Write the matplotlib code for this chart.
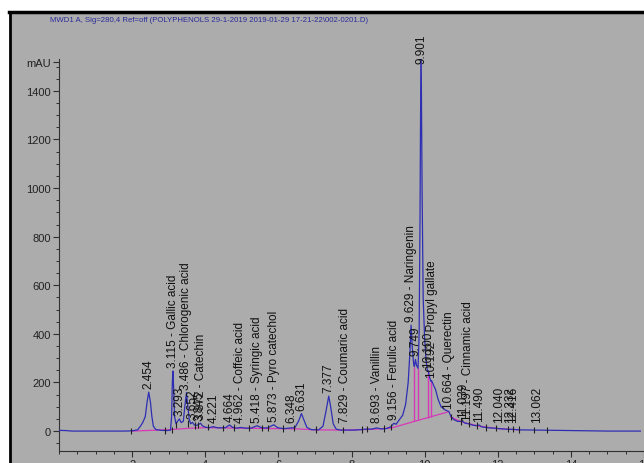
import matplotlib
matplotlib.use("Agg")
import matplotlib.pyplot as plt
from matplotlib import font_manager
from matplotlib.patches import Rectangle
from matplotlib.lines import Line2D
from matplotlib.ticker import MultipleLocator

names_installed = set(font_manager.get_font_names())
narrow = 'Liberation Sans Narrow' if 'Liberation Sans Narrow' in names_installed else 'Liberation Sans'

title = r"MWD1 A, Sig=280,4 Ref=off (POLYPHENOLS 29-1-2019 2019-01-29 17-21-22\002-0201.D)"

# chromatogram trace (time min, mAU)
trace_t = [0.00, 0.20, 0.35, 1.00, 1.80, 2.00, 2.15, 2.25, 2.30, 2.36, 2.41, 2.454, 2.50, 2.54, 2.58,
           2.65, 2.80, 2.95, 3.05, 3.08, 3.10, 3.115, 3.135, 3.16, 3.20, 3.25, 3.293, 3.34, 3.40,
           3.44, 3.486, 3.52, 3.56, 3.60, 3.652, 3.70, 3.78, 3.845, 3.872, 3.92, 4.00, 4.10, 4.221,
           4.35, 4.55, 4.664, 4.75, 4.88, 4.962, 5.10, 5.25, 5.418, 5.55, 5.70, 5.873, 5.98, 6.15,
           6.348, 6.45, 6.55, 6.631, 6.70, 6.78, 6.90, 7.10, 7.22, 7.30, 7.377, 7.43, 7.50, 7.58,
           7.70, 7.829, 8.10, 8.40, 8.55, 8.693, 8.80, 8.95, 9.08, 9.156, 9.22, 9.30, 9.40, 9.48,
           9.55, 9.60, 9.629, 9.66, 9.70, 9.72, 9.749, 9.78, 9.82, 9.85, 9.875, 9.901, 9.93, 9.96,
           10.00, 10.04, 10.08, 10.10, 10.13, 10.17, 10.192, 10.24, 10.30, 10.37, 10.45, 10.55,
           10.664, 10.72, 10.80, 10.90, 11.039, 11.10, 11.197, 11.30, 11.40, 11.490, 11.55, 11.70,
           11.90, 12.040, 12.20, 12.332, 12.416, 12.60, 13.062, 13.50, 14.00, 14.50, 15.00, 15.90]
trace_v = [3, 2, 0, 0, 0, 1, 5, 25, 38, 60, 120, 160, 120, 60, 20,
           6, 3, 2, 4, 60, 200, 247, 180, 60, 30, 42, 50, 35, 40,
           100, 158, 110, 50, 30, 36, 25, 24, 30, 32, 22, 16, 14, 18,
           13, 14, 25, 15, 12, 15, 12, 12, 22, 13, 13, 26, 14, 10,
           13, 14, 40, 72, 45, 15, 6, 5, 20, 80, 144, 100, 30, 8,
           4, 4, 4, 8, 8, 13, 9, 10, 18, 32, 28, 45, 65, 110,
           200, 330, 436, 350, 275, 265, 295, 270, 258, 400, 900, 1650, 1000, 550,
           380, 290, 245, 248, 225, 205, 207, 190, 170, 130, 100, 88,
           80, 60, 47, 40, 40, 33, 30, 25, 22, 25, 18, 14,
           12, 10, 8, 7, 7, 5, 4, 3, 2, 1, 0, 0]

# integration baseline
base_t = [2.0, 2.9, 3.05, 3.6, 4.0, 5.0, 6.0, 6.5, 7.0, 7.8, 8.5, 9.07, 10.664]
base_v = [0, 5, 6, 12, 14, 12, 10, 9, 5, 4, 7, 12, 80]
base2_t = [10.72, 11.0, 11.5, 12.0, 12.6]
base2_v = [58, 38, 20, 10, 5]

# drop lines under the fused peaks
drop_t = [9.72, 9.82, 10.08, 10.17]
drop_lo = [40, 44, 55, 59]
drop_hi = [265, 258, 245, 205]

# integration event ticks
tick_t = [1.98, 2.9, 3.08, 3.2, 3.54, 3.72, 3.8, 4.08, 4.48, 4.79, 5.19, 5.55, 5.72, 6.14, 6.44, 7.04,
          7.77, 8.29, 8.42, 8.88, 9.07, 10.73, 11.0, 11.2, 11.44, 11.69, 11.95, 12.28, 12.42, 12.58,
          13.0, 13.36]
tick_v = [0, 2, 4, 25, 30, 22, 24, 15, 13, 14, 12, 13, 13, 10, 13, 5,
          4, 6, 8, 10, 15, 58, 38, 29, 22, 14, 12, 8, 7, 5, 4, 3]

# peak annotations
peak_t = [2.454, 3.115, 3.293, 3.486, 3.652, 3.845, 3.872, 4.221, 4.664, 4.962, 5.418, 5.873, 6.348,
          6.631, 7.377, 7.829, 8.693, 9.156, 9.629, 9.749, 9.901, 10.100, 10.192, 10.664, 11.039,
          11.197, 11.490, 12.040, 12.332, 12.416, 13.062]
peak_h = [160, 247, 50, 158, 36, 30, 32, 18, 25, 15, 22, 26, 13, 72, 144, 4, 13, 32, 436, 295, 1500,
          248, 207, 80, 40, 30, 25, 10, 7, 7, 4]
peak_name = ['', 'Gallic acid', '', 'Chlorogenic acid', '', '', 'Catechin', '', '', 'Coffeic acid',
             'Syringic acid', 'Pyro catechol', '', '', '', 'Coumaric acid', 'Vanillin', 'Ferulic acid',
             'Naringenin', '', '', '', 'Propyl gallate', 'Querectin', '', 'Cinnamic acid', '', '', '', '', '']

yticks = [0, 200, 400, 600, 800, 1000, 1200, 1400, 1520]
ylabels = ['0', '200', '400', '600', '800', '1000', '1200', '1400', 'mAU']
xticks = [2, 4, 6, 8, 10, 12, 14, 16]

W, H = 644, 464
fig = plt.figure(figsize=(W / 100, H / 100), dpi=100)
fig.patch.set_facecolor('white')
fig.add_artist(Rectangle((11 / W, 0), 1, 1 - 14 / H, transform=fig.transFigure,
                         facecolor='#acacac', edgecolor='none', zorder=-10))
fig.add_artist(Line2D([9 / W, 1], [1 - 13 / H] * 2, color='black', lw=2.5))
fig.add_artist(Line2D([10 / W] * 2, [0, 1 - 13 / H], color='black', lw=2))

ax = fig.add_axes([59 / W, 12 / H, 1 - 59 / W, (452 - 60) / H])
ax.set_facecolor('none')
ax.set_xlim(0, 15.9)
ax.set_ylim(-82, 1531)
for s in ['top', 'right']:
    ax.spines[s].set_visible(False)
for s in ['left', 'bottom']:
    ax.spines[s].set_color('#303030')
    ax.spines[s].set_linewidth(0.8)

ax.plot(base_t, base_v, color='#d838b8', lw=0.9, zorder=2)
ax.plot(base2_t, base2_v, color='#d838b8', lw=0.9, zorder=2)
ax.vlines(drop_t, drop_lo, drop_hi, color='#d838b8', lw=1.0, zorder=2)
ax.plot(trace_t, trace_v, color='#2e2eb4', lw=0.9, zorder=3)
ax.vlines(tick_t, [v - 12 for v in tick_v], [v + 14 for v in tick_v], color='#202020', lw=0.8, zorder=4)

for t, h, n in zip(peak_t, peak_h, peak_name):
    s = f"{t:.3f} - {n}" if n else f"{t:.3f}"
    ax.text(t, max(h, 22) + 16, s, rotation=90, ha='center', va='bottom',
            fontsize=8.5, family='Liberation Sans', color='#111111', clip_on=False, zorder=5)

ax.set_yticks(yticks, ylabels)
ax.yaxis.set_minor_locator(MultipleLocator(50))
ax.set_xticks(xticks)
ax.xaxis.set_minor_locator(MultipleLocator(0.5))
ax.tick_params(which='major', length=4, width=0.8, color='#303030', labelsize=8, pad=2,
               labelcolor='#222222')
ax.tick_params(which='minor', length=2.5, width=0.7, color='#303030')
for lab in ax.get_yticklabels() + ax.get_xticklabels():
    lab.set_family(narrow)

fig.text(50 / W, 1 - 20 / H, title, color='#2b2b9a', fontsize=5.6, family=narrow,
         ha='left', va='center')

fig.savefig('out.png', dpi=100, facecolor=fig.get_facecolor())
